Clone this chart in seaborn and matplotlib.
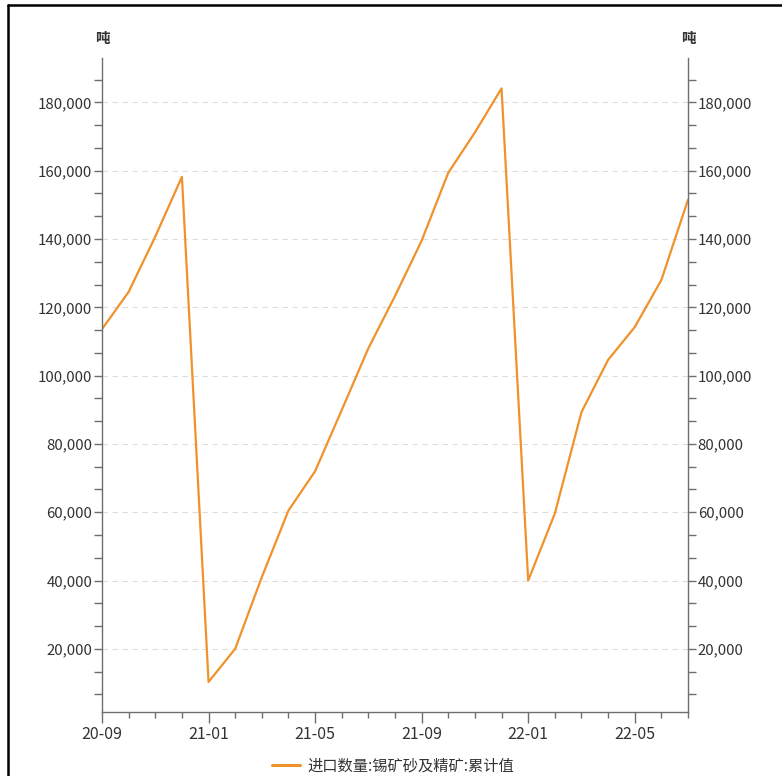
import matplotlib
matplotlib.use("Agg")
import matplotlib.pyplot as plt
import matplotlib.ticker as mticker
from matplotlib.lines import Line2D
import seaborn as sns
import pandas as pd

months = ["20-09", "20-10", "20-11", "20-12", "21-01", "21-02", "21-03", "21-04",
          "21-05", "21-06", "21-07", "21-08", "21-09", "21-10", "21-11", "21-12",
          "22-01", "22-02", "22-03", "22-04", "22-05", "22-06", "22-07"]
values = [113600, 124500, 140700, 158200, 10300, 20000, 41000, 60500,
          72000, 89900, 108000, 123300, 139500, 159400, 171200, 184100,
          40000, 59600, 89300, 104600, 114200, 128000, 151500]
series_name = "进口数量:锡矿砂及精矿:累计值"
unit = "吨"
label_every = 4

sns.set_theme(style="white")
plt.rcParams["font.family"] = ["Noto Sans CJK SC", "DejaVu Sans"]

df = pd.DataFrame({"idx": range(len(months)), "value": values})

W, H = 782, 776
fig = plt.figure(figsize=(W / 100, H / 100), dpi=100)
ax = fig.add_axes([102 / W, 1 - 712 / H, (688 - 102) / W, (712 - 58) / H])

line_color = "#F0922B"
axis_color = "#6E6E6E"
text_color = "#333333"

sns.lineplot(data=df, x="idx", y="value", ax=ax, color=line_color, linewidth=1.6)

ymin, ymax = 1500, 193000
ax.set_xlim(0, len(months) - 1)
ax.set_ylim(ymin, ymax)
ax.set_xlabel("")
ax.set_ylabel("")

ax.set_xticks(range(0, len(months), label_every))
ax.set_xticklabels([months[i] for i in range(0, len(months), label_every)])
ax.xaxis.set_minor_locator(mticker.MultipleLocator(1))
yt = list(range(20000, 180001, 20000))
ax.set_yticks(yt)
ax.yaxis.set_major_formatter(mticker.FuncFormatter(lambda v, p: f"{int(v):,}"))
ax.yaxis.set_minor_locator(mticker.MultipleLocator(20000 / 3))

ax.grid(axis="y", which="major", color="#DDDDDD", linestyle=(0, (5, 4)), linewidth=0.8)
ax.grid(axis="x", visible=False)

for s in ["top", "right"]:
    ax.spines[s].set_visible(False)
for s in ["left", "bottom"]:
    ax.spines[s].set_color(axis_color)
    ax.spines[s].set_linewidth(1.0)

ax.tick_params(axis="x", which="major", length=8, width=1, color=axis_color,
               labelsize=11.5, labelcolor=text_color, pad=2, direction="out", bottom=True)
ax.tick_params(axis="x", which="minor", length=4, width=1, color=axis_color, bottom=True)
ax.tick_params(axis="y", which="major", length=6, width=1, color=axis_color,
               labelsize=10.8, labelcolor=text_color, pad=1, left=True)
ax.tick_params(axis="y", which="minor", length=6, width=1, color=axis_color, left=True)

ax2 = ax.twinx()
ax2.set_ylim(ymin, ymax)
ax2.set_yticks(yt)
ax2.yaxis.set_major_formatter(mticker.FuncFormatter(lambda v, p: f"{int(v):,}"))
ax2.yaxis.set_minor_locator(mticker.MultipleLocator(20000 / 3))
for s in ["top", "left", "bottom"]:
    ax2.spines[s].set_visible(False)
ax2.spines["right"].set_color(axis_color)
ax2.spines["right"].set_linewidth(1.0)
ax2.tick_params(axis="y", which="major", length=6, width=1, color=axis_color,
                labelsize=10.8, labelcolor=text_color, pad=1, right=True)
ax2.tick_params(axis="y", which="minor", length=6, width=1, color=axis_color, right=True)
ax2.grid(False)

fig.text(102 / W, 1 - 38 / H, unit, ha="center", va="center", fontsize=10.5,
         color=text_color, fontweight="bold")
fig.text(688 / W, 1 - 38 / H, unit, ha="center", va="center", fontsize=10.5,
         color=text_color, fontweight="bold")

handle = Line2D([0], [0], color=line_color, linewidth=2.2)
fig.legend([handle], [series_name], loc="center", bbox_to_anchor=(393 / W, 1 - 766 / H),
           frameon=False, fontsize=11, labelcolor=text_color, handlelength=1.8,
           handletextpad=0.5)

# partial frame border
fig.add_artist(Line2D([8 / W, 8 / W], [0, 1 - 5 / H], transform=fig.transFigure,
                      color="black", linewidth=1.8))
fig.add_artist(Line2D([8 / W, 1], [1 - 5 / H, 1 - 5 / H], transform=fig.transFigure,
                      color="black", linewidth=1.8))

fig.savefig("out.png", dpi=100)
